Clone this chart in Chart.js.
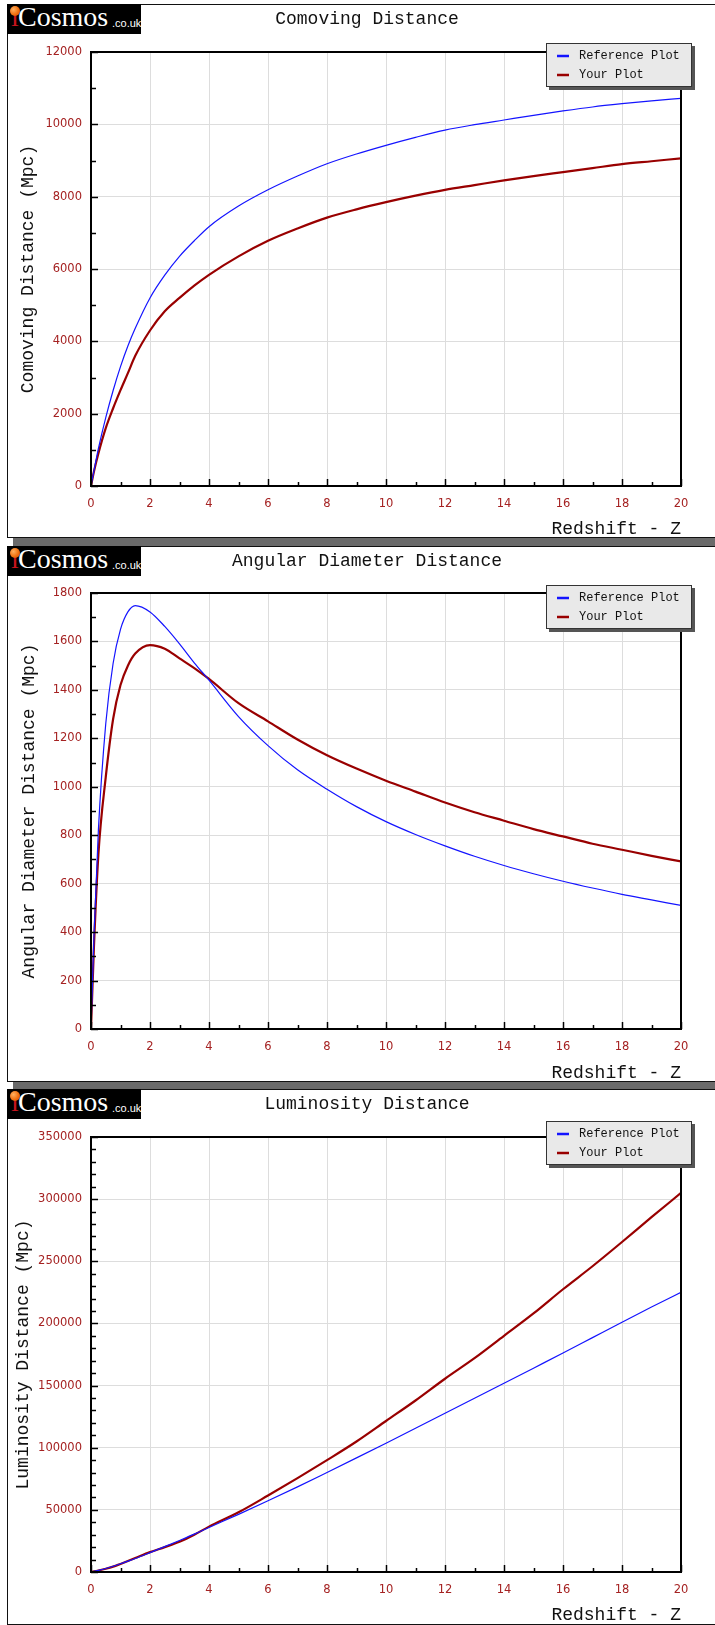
<!DOCTYPE html>
<html>
<head>
<meta charset="utf-8">
<script src="https://cdn.jsdelivr.net/npm/chart.js@4.4.1/dist/chart.umd.min.js"></script>
<style>
  html, body { margin:0; padding:0; background:#fff; }
  body { width:715px; height:1625px; overflow:hidden; position:relative; }
  .panel { position:absolute; left:7px; width:740px; border:1px solid #111; background:#fff;
           box-shadow: 6px 8px 0 #6a6a6a; }
  .panel canvas { position:absolute; left:0; top:0; }
  .logo { position:absolute; left:-1px; top:-1px; width:134px; height:30px; background:#000; overflow:hidden; }
  .logo .i { position:absolute; left:4px; top:-3px; font:28px "Liberation Serif", serif; color:#c8141e; }
  .logo .ball { position:absolute; left:3px; top:2px; width:10px; height:10px; border-radius:50%;
                background: radial-gradient(circle at 35% 35%, #ffb060 0%, #f07010 55%, #c04000 100%); }
  .logo .cos { position:absolute; left:11px; top:-3px; font:28px "Liberation Serif", serif; color:#fff; }
  .logo .uk { position:absolute; left:105px; top:13px; font:11px "Liberation Sans", Arial, sans-serif; color:#fff; }
</style>
</head>
<body>
<div class="panel" style="top:4px;height:532px;">
  <canvas id="c1" width="707" height="532"></canvas>
  <div class="logo"><span class="i">i</span><div class="ball"></div><span class="cos">Cosmos</span><span class="uk">.co.uk</span></div>
</div>
<div class="panel" style="top:546px;height:534px;">
  <canvas id="c2" width="707" height="534"></canvas>
  <div class="logo"><span class="i">i</span><div class="ball"></div><span class="cos">Cosmos</span><span class="uk">.co.uk</span></div>
</div>
<div class="panel" style="top:1089px;height:534px;">
  <canvas id="c3" width="707" height="534"></canvas>
  <div class="logo"><span class="i">i</span><div class="ball"></div><span class="cos">Cosmos</span><span class="uk">.co.uk</span></div>
</div>
<script>
// ---------- data ----------
const redshift = [0, 0.1, 0.25, 0.5, 0.75, 1, 1.25, 1.5, 2, 2.5, 3, 3.5, 4, 5, 6, 7, 8, 9, 10, 11, 12, 13, 14, 15, 16, 17, 18, 19, 20];

const comovingReference = [0, 420, 1030, 1890, 2640, 3300, 3870, 4360, 5200, 5830, 6350, 6780, 7170, 7740, 8190, 8570, 8910, 9180, 9420, 9640, 9840, 9990, 10120, 10250, 10370, 10480, 10570, 10650, 10720];
const comovingYour      = [0, 400, 900, 1600, 2150, 2650, 3120, 3600, 4300, 4830, 5200, 5540, 5840, 6350, 6780, 7120, 7420, 7650, 7850, 8030, 8190, 8320, 8450, 8570, 8680, 8790, 8900, 8980, 9060];

const angularReference  = [0, 380, 820, 1260, 1510, 1650, 1722, 1748, 1722, 1662, 1590, 1512, 1440, 1290, 1170, 1070, 990, 918, 856, 803, 756, 713, 675, 641, 610, 582, 556, 533, 510];
const angularYour       = [0, 340, 720, 1040, 1280, 1420, 1500, 1550, 1585, 1570, 1530, 1490, 1445, 1345, 1270, 1195, 1130, 1075, 1025, 980, 935, 895, 860, 825, 795, 765, 740, 715, 692];

const luminosityReference = [0, 460, 1290, 2840, 4620, 6600, 8710, 10900, 15600, 20400, 25400, 30500, 35850, 46400, 57300, 68500, 80100, 91800, 103600, 115600, 127800, 139800, 151800, 164000, 176200, 188600, 201000, 213200, 225000];
const luminosityYour      = [0, 450, 1200, 2600, 4300, 6500, 8800, 11200, 16000, 20000, 24300, 30000, 36500, 48000, 61500, 75500, 90000, 105000, 121500, 138000, 155500, 172000, 190000, 208000, 227500, 246000, 265500, 285500, 305000];

const xTickLabels = [0, 2, 4, 6, 8, 10, 12, 14, 16, 18, 20];
const comovingTicks = [0, 2000, 4000, 6000, 8000, 10000, 12000];
const angularTicks = [0, 200, 400, 600, 800, 1000, 1200, 1400, 1600, 1800];
const luminosityTicks = [0, 50000, 100000, 150000, 200000, 250000, 300000, 350000];

const seriesNames = ['Reference Plot', 'Your Plot'];
const chartTitles = ['Comoving Distance', 'Angular Diameter Distance', 'Luminosity Distance'];
const yTitles = ['Comoving Distance (Mpc)', 'Angular Diameter Distance (Mpc)', 'Luminosity Distance (Mpc)'];
const xTitle = 'Redshift - Z';

// ---------- styling ----------
const BLUE = '#1414ff';
const RED = '#990000';
const TICK_COLOR = '#a52222';
const MONO = '"Liberation Mono", "DejaVu Sans Mono", monospace';

const pts = (ys) => redshift.map((z, i) => ({x: z, y: ys[i]}));

const decorPlugin = {
  id: 'decor',
  afterDatasetsDraw(chart, args, o) {
    const {ctx, chartArea: a, scales: {x, y}} = chart;
    ctx.save();
    ctx.strokeStyle = '#000';
    ctx.lineWidth = 1.5;
    const xs = xTickLabels;
    for (let v = xs[0]; v <= xs[xs.length - 1]; v += 1) {
      const px = Math.round(x.getPixelForValue(v)) + 0.5;
      const len = (v % 2 === 0) ? 7 : 4;
      ctx.beginPath(); ctx.moveTo(px, a.bottom); ctx.lineTo(px, a.bottom - len); ctx.stroke();
    }
    const ticks = o.yTicks;
    for (let i = 0; i < ticks.length; i++) {
      const py = Math.round(y.getPixelForValue(ticks[i])) + 0.5;
      ctx.beginPath(); ctx.moveTo(a.left, py); ctx.lineTo(a.left + 7, py); ctx.stroke();
      const step = (ticks[1] - ticks[0]) / o.minorPer;
      if (i < ticks.length - 1) {
        for (let k = 1; k < o.minorPer; k++) {
          const pm = Math.round(y.getPixelForValue(ticks[i] + k * step)) + 0.5;
          ctx.beginPath(); ctx.moveTo(a.left, pm); ctx.lineTo(a.left + 5, pm); ctx.stroke();
        }
      }
    }
    ctx.lineWidth = 2;
    ctx.strokeRect(a.left, a.top, a.right - a.left, a.bottom - a.top);
    ctx.restore();
  },
  afterDraw(chart, args, o) {
    const {ctx, chartArea: a} = chart;
    ctx.save();
    ctx.font = '18px ' + MONO;
    ctx.fillStyle = '#111';
    ctx.textAlign = 'center';
    ctx.textBaseline = 'middle';
    ctx.fillText(o.title, 359, 14);
    const lx = a.right - 135, ly = a.top + o.legendDy, lw = 146, lh = 44;
    ctx.fillStyle = '#555';
    ctx.fillRect(lx + 3, ly + 3, lw, lh);
    ctx.fillStyle = '#e9e9e9';
    ctx.fillRect(lx, ly, lw, lh);
    ctx.strokeStyle = '#333';
    ctx.lineWidth = 1;
    ctx.strokeRect(lx + 0.5, ly + 0.5, lw - 1, lh - 1);
    const ds = chart.data.datasets;
    ctx.font = '12px ' + MONO;
    ctx.textAlign = 'left';
    for (let i = 0; i < ds.length; i++) {
      const ry = ly + 13 + i * 19;
      ctx.strokeStyle = ds[i].borderColor;
      ctx.lineWidth = 2.5;
      ctx.beginPath(); ctx.moveTo(lx + 11, ry); ctx.lineTo(lx + 23, ry); ctx.stroke();
      ctx.fillStyle = '#111';
      ctx.fillText(ds[i].label, lx + 33, ry);
    }
    ctx.restore();
  }
};

function makeChart(id, cfg) {
  const canvas = document.getElementById(id);
  const H = canvas.height;
  return new Chart(canvas, {
    type: 'line',
    data: {
      datasets: [
        { label: seriesNames[0], data: pts(cfg.ref), borderColor: BLUE, borderWidth: 1.2,
          pointRadius: 0, fill: false, cubicInterpolationMode: 'monotone' },
        { label: seriesNames[1], data: pts(cfg.your), borderColor: RED, borderWidth: 2.2,
          pointRadius: 0, fill: false, cubicInterpolationMode: 'monotone' }
      ]
    },
    options: {
      responsive: false,
      animation: false,
      events: [],
      layout: { padding: { top: cfg.top, right: 34, left: 0, bottom: 0 } },
      plugins: {
        legend: { display: false },
        tooltip: { enabled: false },
        title: { display: false },
        decor: { title: cfg.title, yTicks: cfg.yTicks, minorPer: cfg.minorPer, legendDy: cfg.legendDy }
      },
      scales: {
        x: {
          type: 'linear', min: xTickLabels[0], max: xTickLabels[xTickLabels.length - 1],
          afterFit: (s) => { s.height = H - cfg.bottom; },
          afterBuildTicks: (s) => { s.ticks = xTickLabels.map(v => ({value: v})); },
          grid: { color: '#dddddd', lineWidth: 1, drawTicks: false },
          border: { display: false },
          ticks: { color: TICK_COLOR, padding: 11, font: { family: 'DejaVu Sans', size: 11.5 },
                   maxRotation: 0, autoSkip: false, callback: (v) => String(v) },
          title: { display: true, text: xTitle, align: 'end', color: '#111',
                   font: { family: MONO, size: 18, lineHeight: 1 }, padding: { top: 0, bottom: cfg.xtPad } }
        },
        y: {
          type: 'linear', min: cfg.yTicks[0], max: cfg.yTicks[cfg.yTicks.length - 1],
          afterFit: (s) => { s.width = 83; },
          afterBuildTicks: (s) => { s.ticks = cfg.yTicks.map(v => ({value: v})); },
          grid: { color: '#dddddd', lineWidth: 1, drawTicks: false },
          border: { display: false },
          ticks: { color: TICK_COLOR, padding: 9, font: { family: 'DejaVu Sans', size: 11.5 },
                   autoSkip: false, callback: (v) => String(v) },
          title: { display: true, text: cfg.yTitle, color: '#111',
                   font: { family: MONO, size: cfg.ytSize, lineHeight: 1 }, padding: { top: cfg.ytPad, bottom: 0 } }
        }
      }
    },
    plugins: [decorPlugin]
  });
}

makeChart('c1', { ref: comovingReference, your: comovingYour, title: chartTitles[0], yTitle: yTitles[0],
  yTicks: comovingTicks, minorPer: 2, top: 47, bottom: 481, xtPad: -1, ytPad: 11, ytSize: 18, legendDy: -9 });
makeChart('c2', { ref: angularReference, your: angularYour, title: chartTitles[1], yTitle: yTitles[1],
  yTicks: angularTicks, minorPer: 2, top: 46, bottom: 482, xtPad: -1, ytPad: 12, ytSize: 18, legendDy: -8 });
makeChart('c3', { ref: luminosityReference, your: luminosityYour, title: chartTitles[2], yTitle: yTitles[2],
  yTicks: luminosityTicks, minorPer: 5, top: 47, bottom: 482, xtPad: 0, ytPad: 6, ytSize: 18, legendDy: -16 });
</script>
</body>
</html>
